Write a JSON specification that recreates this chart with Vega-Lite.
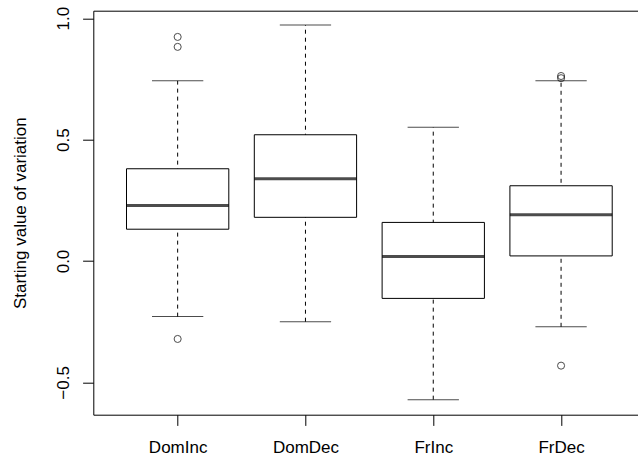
{
  "$schema": "https://vega.github.io/schema/vega-lite/v6.json",
  "width": 544.7,
  "height": 404,
  "autosize": "none",
  "padding": {"left": 93.3, "top": 10.7, "right": 0, "bottom": 46.3},
  "background": "white",
  "config": {"view": {"stroke": null}, "font": "Liberation Sans"},
  "datasets": {
    "stats": [
      {"group": "DomInc", "lower": -0.229, "q1": 0.131, "median": 0.229, "q3": 0.380, "upper": 0.742},
      {"group": "DomDec", "lower": -0.250, "q1": 0.180, "median": 0.339, "q3": 0.520, "upper": 0.972},
      {"group": "FrInc", "lower": -0.571, "q1": -0.154, "median": 0.019, "q3": 0.159, "upper": 0.551},
      {"group": "FrDec", "lower": -0.271, "q1": 0.021, "median": 0.191, "q3": 0.310, "upper": 0.742}
    ],
    "outliers": [
      {"group": "DomInc", "value": 0.923},
      {"group": "DomInc", "value": 0.882},
      {"group": "DomInc", "value": -0.321},
      {"group": "FrDec", "value": 0.753},
      {"group": "FrDec", "value": 0.762},
      {"group": "FrDec", "value": -0.431}
    ]
  },
  "resolve": {"axis": {"x": "independent", "y": "independent"}},
  "layer": [
    {
      "data": {"name": "stats"},
      "mark": {"type": "rule", "color": "black", "strokeWidth": 1, "strokeDash": [4, 4]},
      "encoding": {
        "x": {"field": "group", "type": "nominal", "sort": ["DomInc", "DomDec", "FrInc", "FrDec"],
          "scale": {"type": "point", "padding": 0.631, "align": 0.523},
          "axis": {"orient": "bottom", "title": null, "grid": false, "domain": true, "domainColor": "black", "domainWidth": 1,
            "tickColor": "black", "tickSize": 10.7, "tickWidth": 1, "labelFontSize": 17, "labelColor": "black",
            "labelAngle": 0, "labelAlign": "center", "labelBaseline": "alphabetic", "labelPadding": 27, "labelFont": "Liberation Sans"}},
        "y": {"field": "lower", "type": "quantitative",
          "scale": {"domain": [-0.633, 1.031], "nice": false, "zero": false},
          "axis": {"orient": "left", "values": [-0.5, 0, 0.5, 1], "format": ".1f", "grid": false,
            "domain": true, "domainColor": "black", "domainWidth": 1, "tickColor": "black", "tickSize": 10.7, "tickWidth": 1,
            "labelFontSize": 17, "labelColor": "black", "labelAngle": -90, "labelAlign": "center", "labelBaseline": "alphabetic",
            "labelPadding": 14.3, "labelFont": "Liberation Sans",
            "title": "Starting value of variation", "titleFontSize": 17, "titleFontWeight": "normal", "titleColor": "black",
            "titleFont": "Liberation Sans", "titleAngle": -90, "titleAlign": "center", "titleBaseline": "alphabetic",
            "titleX": -68, "titleY": 202}},
        "y2": {"field": "upper"}
      }
    },
    {
      "data": {"name": "stats"},
      "mark": {"type": "tick", "color": "black", "thickness": 1, "size": 51.3},
      "encoding": {
        "x": {"field": "group", "type": "nominal", "sort": ["DomInc", "DomDec", "FrInc", "FrDec"], "axis": null},
        "y": {"field": "upper", "type": "quantitative", "axis": null}
      }
    },
    {
      "data": {"name": "stats"},
      "mark": {"type": "tick", "color": "black", "thickness": 1, "size": 51.3},
      "encoding": {
        "x": {"field": "group", "type": "nominal", "sort": ["DomInc", "DomDec", "FrInc", "FrDec"], "axis": null},
        "y": {"field": "lower", "type": "quantitative", "axis": null}
      }
    },
    {
      "data": {"name": "stats"},
      "mark": {"type": "bar", "fill": "white", "stroke": "black", "strokeWidth": 1, "size": 102.3},
      "encoding": {
        "x": {"field": "group", "type": "nominal", "sort": ["DomInc", "DomDec", "FrInc", "FrDec"], "axis": null},
        "y": {"field": "q1", "type": "quantitative", "axis": null},
        "y2": {"field": "q3"}
      }
    },
    {
      "data": {"name": "stats"},
      "mark": {"type": "tick", "color": "black", "thickness": 3, "size": 102.3},
      "encoding": {
        "x": {"field": "group", "type": "nominal", "sort": ["DomInc", "DomDec", "FrInc", "FrDec"], "axis": null},
        "y": {"field": "median", "type": "quantitative", "axis": null}
      }
    },
    {
      "data": {"name": "outliers"},
      "mark": {"type": "point", "shape": "circle", "filled": false, "stroke": "black", "strokeWidth": 1, "size": 50},
      "encoding": {
        "x": {"field": "group", "type": "nominal", "sort": ["DomInc", "DomDec", "FrInc", "FrDec"],
          "axis": {"orient": "top", "title": null, "labels": false, "ticks": false, "grid": false, "domain": true, "domainColor": "black", "domainWidth": 1}},
        "y": {"field": "value", "type": "quantitative", "axis": null}
      }
    }
  ]
}
